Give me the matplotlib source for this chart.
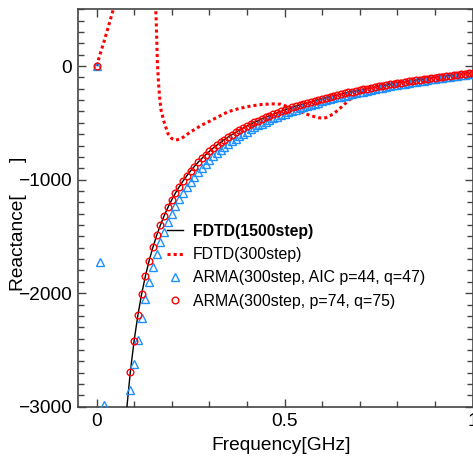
import numpy as np
import matplotlib
matplotlib.use("Agg")
import matplotlib.pyplot as plt
from matplotlib.ticker import MultipleLocator, FixedLocator, FixedFormatter

plt.rcParams['font.family'] = ['Liberation Sans', 'DejaVu Sans']

# ---------------- data ----------------
# FDTD(1500step): frequencies 0.08 .. 1.00 GHz, step 0.01
freq = np.round(np.arange(8, 101) / 100, 2)
fdtd1500 = [-3033, -2692, -2419, -2195, -2008, -1850, -1714, -1596, -1492, -1400,
            -1318, -1245, -1179, -1118, -1064, -1013, -967, -924, -885, -848,
            -814, -782, -752, -723, -697, -672, -648, -625, -604, -584,
            -564, -546, -528, -511, -495, -480, -465, -451, -437, -424,
            -411, -399, -387, -375, -364, -354, -343, -333, -323, -314,
            -305, -296, -287, -279, -270, -262, -254, -247, -239, -232,
            -225, -218, -211, -205, -198, -192, -186, -179, -174, -168,
            -162, -156, -151, -145, -140, -135, -130, -125, -120, -115,
            -111, -106, -101, -97, -93, -88, -84, -80, -76, -72,
            -68, -64, -60]

# FDTD(300step)
f300_freq = [0.00, 0.01, 0.02, 0.03, 0.04, 0.05, 0.06, np.nan,
             0.150, 0.157, 0.159, 0.162, 0.165, 0.168, 0.172, 0.18, 0.19, 0.20,
             0.21, 0.22, 0.23, 0.25, 0.28, 0.30, 0.33, 0.35, 0.38, 0.41, 0.44,
             0.47, 0.49, 0.51, 0.53, 0.55, 0.57, 0.59, 0.60, 0.61, 0.63, 0.65,
             0.67, 0.69, 0.70, 0.71, 0.72, 0.74, 0.76, 0.78, 0.80, 0.82, 0.84,
             0.86, 0.88, 0.90, 0.92, 0.94, 0.96, 0.98, 1.00]
fdtd300 = [0, 110, 215, 330, 445, 560, 700, np.nan,
           1000, 560, 380, 20, -150, -280, -395, -495, -595, -638,
           -652, -645, -628, -580, -520, -487, -436, -402, -373, -352, -338,
           -333, -336, -360, -382, -412, -437, -455, -458, -455, -422, -365,
           -305, -250, -228, -207, -190, -173, -161, -149, -138, -127, -117,
           -107, -98, -88, -80, -71, -63, -55, -47]

# ARMA(300step, AIC p=44, q=47)
aic_freq = [0.00, 0.01, 0.02] + list(np.round(np.arange(9, 101) / 100, 2))
arma_aic = [0, -1724, -2988,
            -2852, -2624, -2415, -2223, -2055, -1904, -1771, -1655, -1552, -1460,
            -1377, -1303, -1235, -1174, -1117, -1066, -1018, -975, -934, -896,
            -860, -827, -795, -766, -738, -711, -685, -662, -639, -617,
            -597, -577, -558, -540, -523, -506, -490, -475, -460, -446,
            -432, -419, -406, -394, -384, -372, -361, -350, -340, -331,
            -321, -311, -303, -293, -285, -276, -269, -260, -253, -245,
            -238, -230, -224, -216, -210, -203, -196, -190, -184, -178,
            -171, -166, -160, -154, -149, -144, -138, -133, -128, -123,
            -118, -113, -108, -104, -99, -95, -90, -86, -82, -78,
            -74, -70]

# ARMA(300step, p=74, q=75)
arma74_freq = [0.00] + list(freq[1:])
arma74 = [0] + fdtd1500[1:]

labels = ["FDTD(1500step)", "FDTD(300step)",
          "ARMA(300step, AIC p=44, q=47)", "ARMA(300step, p=74, q=75)"]

# ---------------- figure ----------------
W, H = 473, 459
fig = plt.figure(figsize=(W / 100, H / 100), dpi=100)
L, R, T, B = 77.7, 472.5, 9.3, 406.7
ax = fig.add_axes([L / W, 1 - B / H, (R - L) / W, (B - T) / H])

blue = '#1e90ff'
ax.plot(freq, fdtd1500, color='black', lw=1.0, label=labels[0], zorder=3)
ax.plot(f300_freq, fdtd300, color='red', lw=2.2, linestyle=(0, (1, 1.0)),
        label=labels[1], zorder=2)
ax.plot(aic_freq, arma_aic, linestyle='none', marker='^', ms=6.2, mfc='none',
        mec=blue, mew=1.0, label=labels[2], zorder=4)
ax.plot(arma74_freq, arma74, linestyle='none', marker='o', ms=4.8, mfc='none',
        mec='red', mew=1.0, label=labels[3], zorder=5)

ax.set_xlim(-0.05, 1.0)
ax.set_ylim(-3000, 500)

ax.xaxis.set_major_locator(FixedLocator([0, 0.5, 1.0]))
ax.xaxis.set_major_formatter(FixedFormatter(['0', '0.5', '1']))
ax.xaxis.set_minor_locator(MultipleLocator(0.1))
ax.yaxis.set_major_locator(FixedLocator([-3000, -2000, -1000, 0]))
ax.yaxis.set_major_formatter(FixedFormatter(['\u22123000', '\u22122000', '\u22121000', '0']))
ax.yaxis.set_minor_locator(MultipleLocator(100))

sc = '#444444'
for s in ax.spines.values():
    s.set_color(sc)
    s.set_linewidth(1.2)
ax.tick_params(which='both', direction='in', top=True, right=True,
               color=sc, labelsize=13.8)
ax.tick_params(which='major', length=6, width=1.0, pad=4.5)
ax.tick_params(which='minor', length=4, width=1.0)

ax.set_xlabel('Frequency[GHz]', fontsize=13.8)
ax.set_ylabel('Reactance[      ]', fontsize=13.8)
ax.xaxis.set_label_coords(0.516, -0.075)
ax.yaxis.set_label_coords(-0.128, 0.46)

leg = fig.legend(loc='upper left', bbox_to_anchor=(166.7 / W, 1 - 224 / H),
                 frameon=False, fontsize=11.4, handlelength=1.05,
                 handletextpad=0.6, labelspacing=0.52, borderpad=0,
                 borderaxespad=0, numpoints=1)
leg.get_texts()[0].set_fontweight('bold')

fig.savefig('out.png', dpi=100)
